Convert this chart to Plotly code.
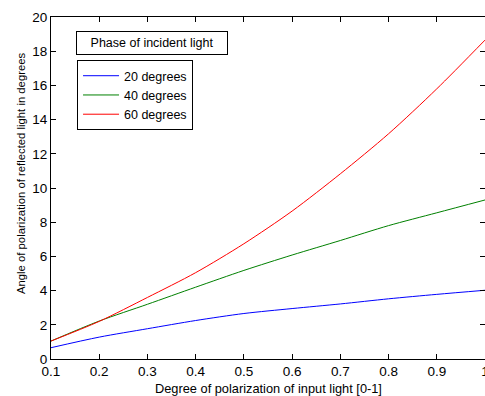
import plotly.graph_objects as go

x_vals = [0.1, 0.2, 0.3, 0.4, 0.5, 0.6, 0.7, 0.8, 0.9, 1.0]
deg20 = [0.66, 1.28, 1.77, 2.25, 2.66, 2.95, 3.22, 3.52, 3.78, 4.02]
deg40 = [1.05, 2.22, 3.2, 4.2, 5.18, 6.08, 6.93, 7.8, 8.55, 9.3]
deg60 = [1.05, 2.2, 3.6, 5.05, 6.74, 8.65, 10.83, 13.17, 15.8, 18.65]
series_names = ["20 degrees", "40 degrees", "60 degrees"]
series_colors = ["#0000ff", "#008000", "#ff0000"]
x_ticks = [0.1, 0.2, 0.3, 0.4, 0.5, 0.6, 0.7, 0.8, 0.9, 1.0]
x_ticklabels = ["0.1", "0.2", "0.3", "0.4", "0.5", "0.6", "0.7", "0.8", "0.9", "1"]
y_ticks = [0, 2, 4, 6, 8, 10, 12, 14, 16, 18, 20]
x_title = "Degree of polarization of input light [0-1]"
y_title = "Angle of polarization of reflected light in degrees"
legend_title = "Phase of incident light"

FONT = "Liberation Sans, Arial, sans-serif"

fig = go.Figure()
for name, ys, col in zip(series_names, [deg20, deg40, deg60], series_colors):
    fig.add_trace(go.Scatter(x=x_vals, y=ys, mode="lines", name=name,
                             line=dict(color=col, width=1, shape="spline",
                                       smoothing=0.8)))

fig.update_layout(
    width=485, height=396,
    margin=dict(l=51, r=0, t=17, b=37, autoexpand=False),
    plot_bgcolor="white", paper_bgcolor="white",
    font=dict(family=FONT, size=12, color="black"),
    showlegend=True,
    legend=dict(x=0.06, y=0.874, xanchor="left", yanchor="top",
                bordercolor="black", borderwidth=1, bgcolor="white",
                font=dict(size=12.5, family=FONT), tracegroupgap=0,
                itemwidth=36),
    annotations=[
        dict(text=legend_title, xref="paper", yref="paper",
             x=0.0576, y=0.959, xanchor="left", yanchor="top",
             showarrow=False, bordercolor="black", borderwidth=1,
             borderpad=4, bgcolor="white", width=142,
             font=dict(size=12.5, family=FONT)),
        dict(text=x_title, xref="paper", yref="paper",
             x=0.502, y=-0.086, xanchor="center", yanchor="middle",
             showarrow=False, font=dict(size=12.8, family=FONT)),
        dict(text=y_title, xref="paper", yref="paper", textangle=-90,
             x=-0.069, y=0.544, xanchor="center", yanchor="middle",
             showarrow=False, font=dict(size=11.3, family=FONT)),
    ],
)
fig.update_xaxes(range=[0.1, 1.0], tickvals=x_ticks, ticktext=x_ticklabels,
                 ticks="inside", ticklen=5, tickcolor="black", automargin=False,
                 ticklabeloverflow="allow",
                 showline=True, linecolor="black", linewidth=1, mirror="ticks",
                 showgrid=False, zeroline=False,
                 tickfont=dict(size=13.5, family=FONT))
fig.update_yaxes(range=[0, 20], tickvals=y_ticks,
                 ticks="inside", ticklen=5, tickcolor="black", automargin=False,
                 ticklabeloverflow="allow",
                 showline=True, linecolor="black", linewidth=1, mirror="ticks",
                 showgrid=False, zeroline=False,
                 tickfont=dict(size=13.5, family=FONT))

fig.write_html("out.html", config={"displayModeBar": False},
               post_script="document.body.style.margin='0px';")
